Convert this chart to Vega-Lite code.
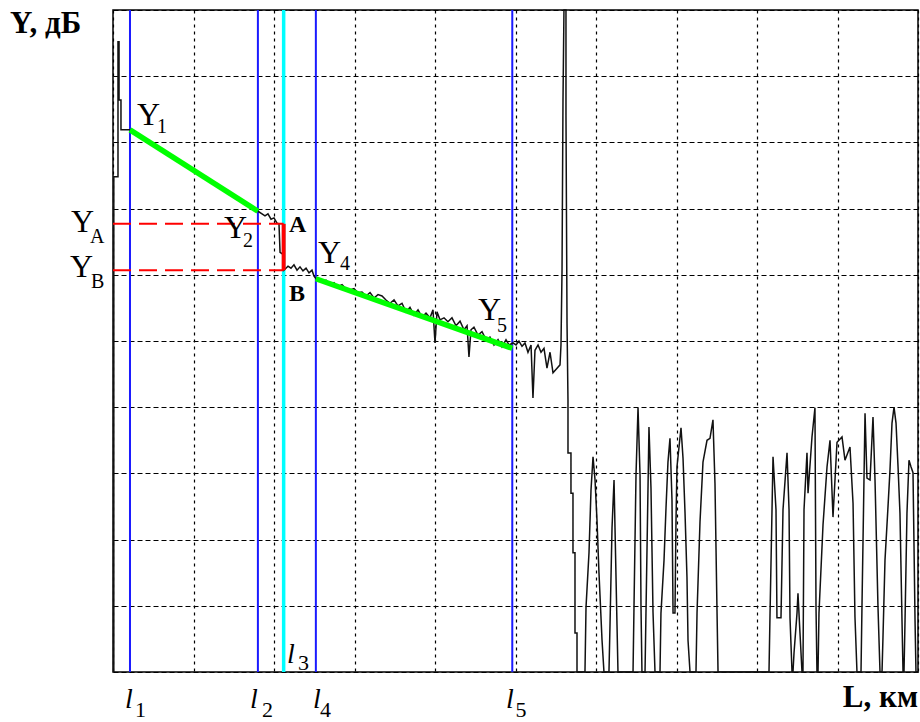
{
  "$schema": "https://vega.github.io/schema/vega-lite/v6.json",
  "width": 805,
  "height": 662,
  "autosize": {"type": "none"},
  "padding": {"left": 113, "top": 10, "right": 2, "bottom": 50},
  "background": "white",
  "config": {
    "view": {"stroke": "black", "strokeWidth": 1.5},
    "text": {"font": "Liberation Serif", "align": "left", "baseline": "alphabetic", "color": "black"}
  },
  "datasets": {
    "trace": [
      {"x": 0.01, "y": 0}, {"x": 0.01, "y": 7.48}, {"x": 0.062, "y": 7.48}, {"x": 0.062, "y": 9.52},
      {"x": 0.075, "y": 9.52}, {"x": 0.075, "y": 8.64}, {"x": 0.099, "y": 8.64}, {"x": 0.099, "y": 8.19},
      {"x": 0.211, "y": 8.19}, {"x": 1.801, "y": 6.96}, {"x": 1.851, "y": 6.92}, {"x": 1.888, "y": 6.89},
      {"x": 1.925, "y": 6.92}, {"x": 1.963, "y": 6.84}, {"x": 2.0, "y": 6.86}, {"x": 2.037, "y": 6.78},
      {"x": 2.062, "y": 6.77}, {"x": 2.075, "y": 6.34}, {"x": 2.112, "y": 6.31}, {"x": 2.124, "y": 6.07},
      {"x": 2.174, "y": 6.13}, {"x": 2.211, "y": 6.10}, {"x": 2.248, "y": 6.15}, {"x": 2.286, "y": 6.07},
      {"x": 2.323, "y": 6.12}, {"x": 2.360, "y": 6.06}, {"x": 2.398, "y": 6.10}, {"x": 2.435, "y": 6.03},
      {"x": 2.472, "y": 6.07}, {"x": 2.497, "y": 5.98}, {"x": 2.522, "y": 5.94},
      {"x": 2.596, "y": 5.89}, {"x": 2.646, "y": 5.92}, {"x": 2.696, "y": 5.85}, {"x": 2.745, "y": 5.88},
      {"x": 2.795, "y": 5.82}, {"x": 2.845, "y": 5.85}, {"x": 2.894, "y": 5.79}, {"x": 2.944, "y": 5.77},
      {"x": 2.994, "y": 5.79}, {"x": 3.043, "y": 5.73}, {"x": 3.093, "y": 5.74}, {"x": 3.143, "y": 5.68},
      {"x": 3.193, "y": 5.73}, {"x": 3.242, "y": 5.65}, {"x": 3.292, "y": 5.70}, {"x": 3.342, "y": 5.68},
      {"x": 3.391, "y": 5.62}, {"x": 3.441, "y": 5.57}, {"x": 3.491, "y": 5.62}, {"x": 3.540, "y": 5.53},
      {"x": 3.590, "y": 5.57}, {"x": 3.640, "y": 5.44}, {"x": 3.689, "y": 5.51}, {"x": 3.739, "y": 5.39},
      {"x": 3.789, "y": 5.47}, {"x": 3.839, "y": 5.36}, {"x": 3.888, "y": 5.42}, {"x": 3.938, "y": 5.35},
      {"x": 3.975, "y": 5.47}, {"x": 4.0, "y": 4.97}, {"x": 4.025, "y": 5.44}, {"x": 4.062, "y": 5.32},
      {"x": 4.112, "y": 5.35}, {"x": 4.161, "y": 5.29}, {"x": 4.211, "y": 5.35}, {"x": 4.261, "y": 5.23},
      {"x": 4.311, "y": 5.30}, {"x": 4.360, "y": 5.17}, {"x": 4.398, "y": 5.23}, {"x": 4.422, "y": 4.76},
      {"x": 4.447, "y": 5.17}, {"x": 4.484, "y": 5.21}, {"x": 4.534, "y": 5.09}, {"x": 4.584, "y": 5.14},
      {"x": 4.634, "y": 5.02}, {"x": 4.683, "y": 5.06}, {"x": 4.733, "y": 4.94}, {"x": 4.783, "y": 5.02},
      {"x": 4.832, "y": 4.91}, {"x": 4.882, "y": 5.02}, {"x": 4.919, "y": 4.94}, {"x": 4.969, "y": 4.97},
      {"x": 5.006, "y": 4.94}, {"x": 5.043, "y": 5.0}, {"x": 5.081, "y": 4.92}, {"x": 5.118, "y": 4.97},
      {"x": 5.155, "y": 4.83}, {"x": 5.193, "y": 4.94}, {"x": 5.217, "y": 4.14}, {"x": 5.242, "y": 4.86},
      {"x": 5.280, "y": 4.94}, {"x": 5.317, "y": 4.83}, {"x": 5.354, "y": 4.89}, {"x": 5.391, "y": 4.59},
      {"x": 5.429, "y": 4.83}, {"x": 5.466, "y": 4.52}, {"x": 5.516, "y": 4.59}, {"x": 5.553, "y": 4.64},
      {"x": 5.565, "y": 4.94}, {"x": 5.578, "y": 6.07}, {"x": 5.590, "y": 8.64}, {"x": 5.602, "y": 10.0},
      {"x": 5.627, "y": 10.0}, {"x": 5.627, "y": 8.41}, {"x": 5.640, "y": 5.27}, {"x": 5.652, "y": 4.11},
      {"x": 5.652, "y": 3.31}, {"x": 5.689, "y": 3.31}, {"x": 5.689, "y": 2.70}, {"x": 5.714, "y": 2.70},
      {"x": 5.714, "y": 1.80}, {"x": 5.739, "y": 1.80}, {"x": 5.739, "y": 0.59}, {"x": 5.764, "y": 0.59},
      {"x": 5.764, "y": 0},
      {"x": 5.863, "y": 0}, {"x": 5.876, "y": 0.98}, {"x": 5.913, "y": 1.80}, {"x": 5.938, "y": 2.75},
      {"x": 5.963, "y": 3.25}, {"x": 5.988, "y": 2.90}, {"x": 6.012, "y": 2.30}, {"x": 6.037, "y": 1.50},
      {"x": 6.075, "y": 0.48}, {"x": 6.099, "y": 0},
      {"x": 6.161, "y": 0}, {"x": 6.174, "y": 0.71}, {"x": 6.199, "y": 2.18}, {"x": 6.224, "y": 2.90},
      {"x": 6.236, "y": 2.18}, {"x": 6.261, "y": 0.71}, {"x": 6.273, "y": 0},
      {"x": 6.460, "y": 0}, {"x": 6.472, "y": 0.98}, {"x": 6.497, "y": 2.98}, {"x": 6.522, "y": 3.99},
      {"x": 6.547, "y": 2.98}, {"x": 6.559, "y": 0.98}, {"x": 6.571, "y": 0},
      {"x": 6.609, "y": 0}, {"x": 6.621, "y": 0.91}, {"x": 6.646, "y": 2.78}, {"x": 6.658, "y": 3.70},
      {"x": 6.683, "y": 2.78}, {"x": 6.708, "y": 0.91}, {"x": 6.733, "y": 0},
      {"x": 6.795, "y": 0}, {"x": 6.807, "y": 0.89}, {"x": 6.845, "y": 1.69}, {"x": 6.870, "y": 2.49},
      {"x": 6.894, "y": 3.17}, {"x": 6.919, "y": 3.53}, {"x": 6.944, "y": 2.60}, {"x": 6.957, "y": 0.89},
      {"x": 6.981, "y": 0.89}, {"x": 6.994, "y": 2.30}, {"x": 7.006, "y": 3.10}, {"x": 7.056, "y": 3.69},
      {"x": 7.081, "y": 3.23}, {"x": 7.106, "y": 2.40}, {"x": 7.130, "y": 1.44}, {"x": 7.143, "y": 0.48},
      {"x": 7.168, "y": 0},
      {"x": 7.242, "y": 0}, {"x": 7.255, "y": 0.89}, {"x": 7.292, "y": 2.27}, {"x": 7.329, "y": 3.17},
      {"x": 7.379, "y": 3.50}, {"x": 7.416, "y": 3.53}, {"x": 7.453, "y": 3.81}, {"x": 7.478, "y": 2.85},
      {"x": 7.503, "y": 0.94}, {"x": 7.516, "y": 0},
      {"x": 8.149, "y": 0}, {"x": 8.161, "y": 0.82}, {"x": 8.199, "y": 3.25}, {"x": 8.236, "y": 2.45},
      {"x": 8.248, "y": 0.82}, {"x": 8.298, "y": 0.82}, {"x": 8.323, "y": 2.45}, {"x": 8.373, "y": 3.31},
      {"x": 8.398, "y": 2.45}, {"x": 8.410, "y": 0.82}, {"x": 8.435, "y": 0},
      {"x": 8.447, "y": 0}, {"x": 8.460, "y": 0.29}, {"x": 8.497, "y": 0.89}, {"x": 8.509, "y": 1.19},
      {"x": 8.534, "y": 0.59}, {"x": 8.559, "y": 0},
      {"x": 8.571, "y": 0}, {"x": 8.584, "y": 2.45}, {"x": 8.621, "y": 3.31}, {"x": 8.634, "y": 2.70},
      {"x": 8.683, "y": 3.55}, {"x": 8.720, "y": 3.99}, {"x": 8.733, "y": 0.98}, {"x": 8.745, "y": 0},
      {"x": 8.758, "y": 0}, {"x": 8.770, "y": 0.89}, {"x": 8.820, "y": 2.22}, {"x": 8.870, "y": 3.10},
      {"x": 8.907, "y": 3.50}, {"x": 8.944, "y": 2.34}, {"x": 8.994, "y": 3.47}, {"x": 9.056, "y": 3.55},
      {"x": 9.093, "y": 3.20}, {"x": 9.155, "y": 3.40}, {"x": 9.193, "y": 2.55}, {"x": 9.217, "y": 0.83},
      {"x": 9.242, "y": 0},
      {"x": 9.292, "y": 0}, {"x": 9.304, "y": 0.98}, {"x": 9.342, "y": 3.91}, {"x": 9.366, "y": 2.93},
      {"x": 9.404, "y": 2.90}, {"x": 9.441, "y": 3.85}, {"x": 9.466, "y": 2.90}, {"x": 9.503, "y": 0.98},
      {"x": 9.528, "y": 0},
      {"x": 9.553, "y": 0}, {"x": 9.565, "y": 0.53}, {"x": 9.590, "y": 1.69}, {"x": 9.627, "y": 2.49},
      {"x": 9.652, "y": 3.05}, {"x": 9.677, "y": 3.76}, {"x": 9.702, "y": 4.0}, {"x": 9.727, "y": 3.76},
      {"x": 9.752, "y": 3.10}, {"x": 9.776, "y": 2.40}, {"x": 9.801, "y": 0.79}, {"x": 9.814, "y": 0},
      {"x": 9.826, "y": 0}, {"x": 9.839, "y": 0.79}, {"x": 9.863, "y": 2.40}, {"x": 9.888, "y": 3.20},
      {"x": 9.913, "y": 3.10}, {"x": 9.938, "y": 3.01}, {"x": 9.963, "y": 0.79}, {"x": 9.975, "y": 0},
      {"x": 10.0, "y": 0}
    ],
    "blue": [
      {"x": 0.211, "y": 0, "y2": 10}, {"x": 1.80, "y": 0, "y2": 10},
      {"x": 2.52, "y": 0, "y2": 10}, {"x": 4.96, "y": 0, "y2": 10}
    ],
    "cyan": [{"x": 2.12, "y": 0, "y2": 10}],
    "green": [
      {"seg": 1, "x": 0.211, "y": 8.19}, {"seg": 1, "x": 1.80, "y": 6.96},
      {"seg": 2, "x": 2.52, "y": 5.94}, {"seg": 2, "x": 4.96, "y": 4.89}
    ],
    "redh": [{"x": 0, "x2": 2.12, "y": 6.77}, {"x": 0, "x2": 2.12, "y": 6.07}],
    "redv": [{"x": 2.12, "y": 6.77, "y2": 6.07}],
    "ybig": [
      {"t": "Y", "x": 0.298, "y": 8.26}, {"t": "Y", "x": 1.379, "y": 6.56},
      {"t": "Y", "x": 2.547, "y": 6.18}, {"t": "Y", "x": 4.534, "y": 5.32},
      {"t": "Y", "x": -0.522, "y": 6.65}, {"t": "Y", "x": -0.534, "y": 5.97}
    ],
    "ysub": [
      {"t": "1", "x": 0.547, "y": 8.14}, {"t": "2", "x": 1.615, "y": 6.42},
      {"t": "4", "x": 2.820, "y": 6.07}, {"t": "5", "x": 4.770, "y": 5.14},
      {"t": "A", "x": -0.286, "y": 6.48}, {"t": "B", "x": -0.273, "y": 5.80}
    ],
    "ell": [
      {"t": "l", "x": 0.149, "y": -0.54}, {"t": "l", "x": 1.702, "y": -0.54},
      {"t": "l", "x": 2.484, "y": -0.54}, {"t": "l", "x": 4.882, "y": -0.54},
      {"t": "l", "x": 2.161, "y": 0.136}
    ],
    "ellsub": [
      {"t": "1", "x": 0.273, "y": -0.68}, {"t": "2", "x": 1.851, "y": -0.68},
      {"t": "4", "x": 2.571, "y": -0.68}, {"t": "5", "x": 5.0, "y": -0.68},
      {"t": "3", "x": 2.298, "y": 0.03}
    ],
    "ab": [{"t": "A", "x": 2.186, "y": 6.65}, {"t": "B", "x": 2.186, "y": 5.60}],
    "titles": [{"t": "Y, дБ", "x": -1.28, "y": 9.65}],
    "titlesr": [{"t": "L, км", "x": 10.0, "y": -0.529}]
  },
  "encoding": {
    "x": {
      "field": "x", "type": "quantitative",
      "scale": {"domain": [0, 10], "nice": false, "zero": false},
      "axis": {"grid": true, "values": [0, 1, 2, 3, 4, 5, 6, 7, 8, 9, 10], "labels": false, "ticks": false, "domain": false, "title": null,
               "gridDash": [3, 4], "gridColor": "#000000", "gridOpacity": 1, "gridWidth": 1.2}
    },
    "y": {
      "field": "y", "type": "quantitative",
      "scale": {"domain": [0, 10], "nice": false, "zero": false},
      "axis": {"grid": true, "values": [0, 1, 2, 3, 4, 5, 6, 7, 8, 9, 10], "labels": false, "ticks": false, "domain": false, "title": null,
               "gridDash": [5, 3], "gridColor": "#000000", "gridOpacity": 1, "gridWidth": 1.2}
    }
  },
  "layer": [
    {
      "data": {"name": "blue"},
      "mark": {"type": "rule", "color": "#1a1aff", "strokeWidth": 2},
      "encoding": {"y2": {"field": "y2"}}
    },
    {
      "data": {"name": "cyan"},
      "mark": {"type": "rule", "color": "#00ffff", "strokeWidth": 3.5},
      "encoding": {"y2": {"field": "y2"}}
    },
    {
      "data": {"name": "trace"},
      "mark": {"type": "line", "color": "#111111", "strokeWidth": 1.5},
      "encoding": {}
    },
    {
      "data": {"name": "green"},
      "mark": {"type": "line", "color": "#00ff00", "strokeWidth": 5.5},
      "encoding": {"detail": {"field": "seg", "type": "nominal"}}
    },
    {
      "data": {"name": "redh"},
      "mark": {"type": "rule", "color": "#ff0000", "strokeWidth": 2, "strokeDash": [18, 8]},
      "encoding": {"x2": {"field": "x2"}}
    },
    {
      "data": {"name": "redv"},
      "mark": {"type": "rule", "color": "#ff0000", "strokeWidth": 4},
      "encoding": {"y2": {"field": "y2"}}
    },
    {
      "data": {"name": "ybig"},
      "mark": {"type": "text", "fontSize": 32},
      "encoding": {"text": {"field": "t"}}
    },
    {
      "data": {"name": "ysub"},
      "mark": {"type": "text", "fontSize": 20},
      "encoding": {"text": {"field": "t"}}
    },
    {
      "data": {"name": "ell"},
      "mark": {"type": "text", "fontSize": 28, "fontStyle": "italic"},
      "encoding": {"text": {"field": "t"}}
    },
    {
      "data": {"name": "ellsub"},
      "mark": {"type": "text", "fontSize": 22},
      "encoding": {"text": {"field": "t"}}
    },
    {
      "data": {"name": "ab"},
      "mark": {"type": "text", "fontSize": 24, "fontWeight": "bold"},
      "encoding": {"text": {"field": "t"}}
    },
    {
      "data": {"name": "titles"},
      "mark": {"type": "text", "fontSize": 31, "fontWeight": "bold"},
      "encoding": {"text": {"field": "t"}}
    },
    {
      "data": {"name": "titlesr"},
      "mark": {"type": "text", "fontSize": 31, "fontWeight": "bold", "align": "right"},
      "encoding": {"text": {"field": "t"}}
    }
  ]
}
